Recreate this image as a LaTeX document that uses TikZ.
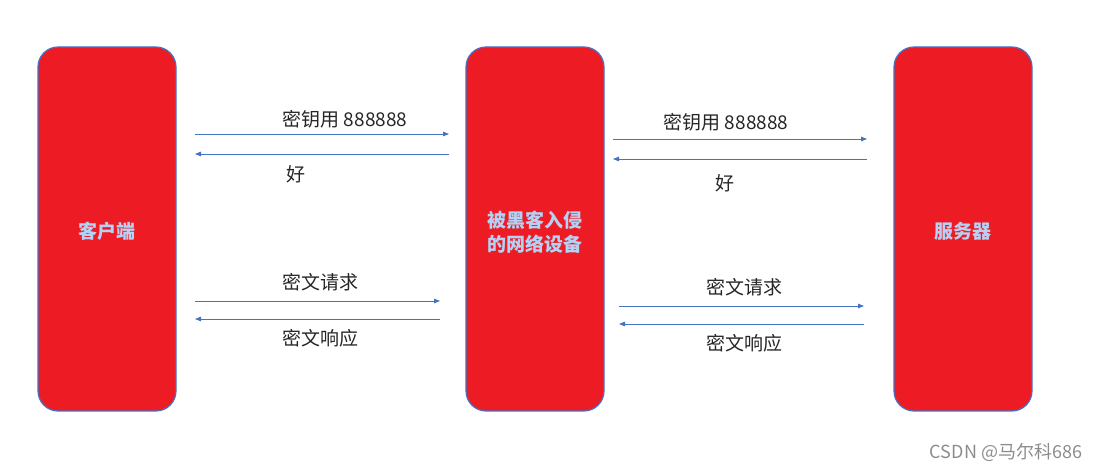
\documentclass[tikz,border=0pt]{standalone}
\usepackage{fontspec}
\setmainfont{Noto Sans CJK SC}
\newfontfamily\cjk{Noto Sans CJK SC}
\usetikzlibrary{arrows.meta}
\definecolor{boxred}{HTML}{ED1C24}
\definecolor{boxblue}{HTML}{4472C4}
\definecolor{txtblue}{HTML}{B4D2F5}
\tikzset{
  devbox/.style={draw=boxblue, line width=1.2pt, fill=boxred, rounded corners=20pt, minimum width=138pt, minimum height=364pt, inner sep=0pt},
  devtext/.style={font=\cjk\fontsize{19}{24}\selectfont\bfseries, text=txtblue, align=center},
  msg/.style={draw=boxblue, line width=0.8pt, -{Triangle[length=6pt,width=4.5pt]}},
  lbl/.style={font=\cjk\fontsize{19}{22}\selectfont, text=black!85, inner sep=0pt}
}
\begin{document}
\begin{tikzpicture}[x=1pt,y=-1pt]
\useasboundingbox (0,0) rectangle (1096,470);
\node[devbox] (client) at (107,229) {};
\node[devbox] (mid) at (535,229) {};
\node[devbox] (server) at (963,229) {};
\node[devtext] (tc) at (107,231) {客户端};
\node[devtext] (tm) at (535,232) {被黑客入侵\\的网络设备};
\node[devtext] (ts) at (963,231) {服务器};
% left pair upper
\coordinate (a1) at (195,134); \coordinate (a2) at (449,134);
\coordinate (b1) at (449,154); \coordinate (b2) at (195,154);
\draw[msg] (a1) -- (a2);
\draw[msg] (b1) -- (b2);
\node[lbl] (l1) at (345,119) {密钥用 888888};
\node[lbl] (l2) at (296,174) {好};
% left pair lower
\coordinate (c1) at (195,301); \coordinate (c2) at (440,301);
\coordinate (d1) at (440,319); \coordinate (d2) at (195,319);
\draw[msg] (c1) -- (c2);
\draw[msg] (d1) -- (d2);
\node[lbl] (l3) at (320,282) {密文请求};
\node[lbl] (l4) at (320,338) {密文响应};
% right pair upper
\coordinate (e1) at (613,139); \coordinate (e2) at (867,139);
\coordinate (f1) at (867,159); \coordinate (f2) at (613,159);
\draw[msg] (e1) -- (e2);
\draw[msg] (f1) -- (f2);
\node[lbl] (r1) at (726,122) {密钥用 888888};
\node[lbl] (r2) at (725,183) {好};
% right pair lower
\coordinate (g1) at (619,306); \coordinate (g2) at (864,306);
\coordinate (h1) at (864,324); \coordinate (h2) at (619,324);
\draw[msg] (g1) -- (g2);
\draw[msg] (h1) -- (h2);
\node[lbl] (r3) at (744,287) {密文请求};
\node[lbl] (r4) at (744,343) {密文响应};
\node[font=\cjk\fontsize{18}{20}\selectfont, text=black!45, inner sep=0pt] (wm) at (1006,452) {CSDN @马尔科686};
\end{tikzpicture}
\end{document}
